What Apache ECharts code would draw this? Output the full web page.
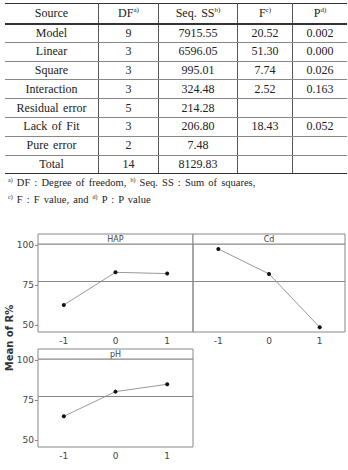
<!DOCTYPE html>
<html>
<head>
<meta charset="utf-8">
<script src="https://cdn.jsdelivr.net/npm/echarts@6/dist/echarts.min.js"></script>
<style>
    html, body { margin: 0; padding: 0; background: #fff; }
    #chart { position: absolute; left: 0; top: 0; width: 348px; height: 470px; }
    #anova {
        position: absolute; left: 5px; top: 3px; width: 338px;
        border-collapse: collapse; table-layout: fixed; z-index: 2;
        font-family: "Liberation Serif", "Times New Roman", serif;
        font-size: 12px; color: #222; word-spacing: 1.5px;
    }
    #anova th, #anova td {
        padding: 0; text-align: center; font-weight: normal;
        border-left: 1px solid #555; border-bottom: 1px solid #888;
        line-height: 17px;
    }
    #anova tbody tr { height: 18.8px; }
    #anova thead tr { height: 20px; border-top: 1px solid #333; }
    #anova th:first-child, #anova td:first-child { border-left: none; }
    #anova th { border-bottom: 2px solid #333; }
    #anova tbody tr:last-child td { border-bottom: 1px solid #333; }
    #anova sup { font-size: 7px; vertical-align: 5px; line-height: 0; }
    #notes {
        position: absolute; left: 8px; top: 174px; z-index: 2;
        font-family: "Liberation Serif", "Times New Roman", serif;
        font-size: 10.5px; color: #222; line-height: 17px; word-spacing: 1.5px;
    }
    #notes sup { font-size: 6px; vertical-align: 4px; line-height: 0; }
</style>
</head>
<body>
<div id="chart"></div>
<table id="anova"><thead></thead><tbody></tbody></table>
<div id="notes">
    <sup>a)</sup> DF : Degree of freedom, <sup>b)</sup> Seq. SS : Sum of squares,<br>
    <sup>c)</sup> F : F value, and <sup>d)</sup> P : P value
</div>
<script>
    // anova table
    var headers = ['Source', 'DF<sup>a)</sup>', 'Seq. SS<sup>b)</sup>', 'F<sup>c)</sup>', 'P<sup>d)</sup>'];
    var sources = ['Model', 'Linear', 'Square', 'Interaction', 'Residual error', 'Lack of Fit', 'Pure error', 'Total'];
    var dfs = ['9', '3', '3', '3', '5', '3', '2', '14'];
    var seqSS = ['7915.55', '6596.05', '995.01', '324.48', '214.28', '206.80', '7.48', '8129.83'];
    var fValues = ['20.52', '51.30', '7.74', '2.52', '', '18.43', '', ''];
    var pValues = ['0.002', '0.000', '0.026', '0.163', '', '0.052', '', ''];

    // main effects plot
    var levels = ['-1', '0', '1'];
    var hapMeans = [62.5, 82.9, 82.1];
    var cdMeans = [97.5, 81.9, 48.6];
    var phMeans = [64.8, 80.2, 84.8];
    var grandMean = 77.3;
    var yTicks = [50, 75, 100];

    var colWidths = [93, 59, 78, 54, 54];
    var head = '<tr>' + headers.map(function (h, i) {
        return '<th style="width:' + colWidths[i] + 'px">' + h + '</th>';
    }).join('') + '</tr>';
    document.querySelector('#anova thead').innerHTML = head;
    document.querySelector('#anova tbody').innerHTML = sources.map(function (s, i) {
        return '<tr><td>' + s + '</td><td>' + dfs[i] + '</td><td>' + seqSS[i] +
            '</td><td>' + fValues[i] + '</td><td>' + pValues[i] + '</td></tr>';
    }).join('');

    var panels = [
        { name: 'HAP', data: hapMeans, left: 38, top: 244, width: 155, labels: true },
        { name: 'Cd', data: cdMeans, left: 193, top: 244, width: 152, labels: false },
        { name: 'pH', data: phMeans, left: 38, top: 359, width: 155, labels: true }
    ];
    var plotH = 88, stripH = 10;
    var font = '"DejaVu Sans", sans-serif';

    var graphics = [];
    panels.forEach(function (p) {
        graphics.push({
            type: 'rect', silent: true,
            shape: { x: p.left, y: p.top - stripH, width: p.width, height: stripH },
            style: { fill: '#fff', stroke: '#888', lineWidth: 1 }
        });
        graphics.push({
            type: 'text', silent: true,
            x: p.left + p.width / 2, y: p.top - stripH / 2,
            style: { text: p.name, fontSize: 8, fontFamily: font, fill: '#444',
                align: 'center', verticalAlign: 'middle' }
        });
    });
    graphics.push({
        type: 'text', silent: true, x: 9, y: 338, rotation: Math.PI / 2,
        style: { text: 'Mean of R%', fontSize: 10, fontWeight: 'bold', fontFamily: font,
            fill: '#333', align: 'center', verticalAlign: 'middle' }
    });

    var myChart = echarts.init(document.getElementById('chart'), null, { renderer: 'svg' });
    var option = {
        animation: false,
        grid: panels.map(function (p) {
            return { left: p.left, top: p.top, width: p.width, height: plotH,
                show: true, borderColor: '#888', borderWidth: 1, backgroundColor: 'transparent' };
        }),
        xAxis: panels.map(function (p, i) {
            return {
                type: 'category', gridIndex: i, data: levels, boundaryGap: true,
                axisLine: { show: false },
                axisTick: { alignWithLabel: true, length: 3, lineStyle: { color: '#888' } },
                axisLabel: { fontSize: 9, fontFamily: font, color: '#444', margin: 4 }
            };
        }),
        yAxis: panels.map(function (p, i) {
            return {
                type: 'value', gridIndex: i, min: 45.6, max: 100.6,
                splitLine: { show: false },
                axisLine: { show: false },
                axisTick: { show: p.labels, length: 3, customValues: yTicks, lineStyle: { color: '#888' } },
                axisLabel: { show: p.labels, customValues: yTicks, fontSize: 9, fontFamily: font,
                    color: '#444', margin: 4 }
            };
        }),
        series: panels.map(function (p, i) {
            return {
                type: 'line', name: p.name, xAxisIndex: i, yAxisIndex: i, data: p.data,
                symbol: 'circle', symbolSize: 4,
                itemStyle: { color: '#111' },
                lineStyle: { color: '#999', width: 1 },
                markLine: {
                    silent: true, symbol: 'none', label: { show: false },
                    lineStyle: { color: '#888', width: 1, type: 'solid' },
                    data: [{ yAxis: grandMean }]
                }
            };
        }),
        graphic: graphics
    };
    myChart.setOption(option);
</script>
</body>
</html>
